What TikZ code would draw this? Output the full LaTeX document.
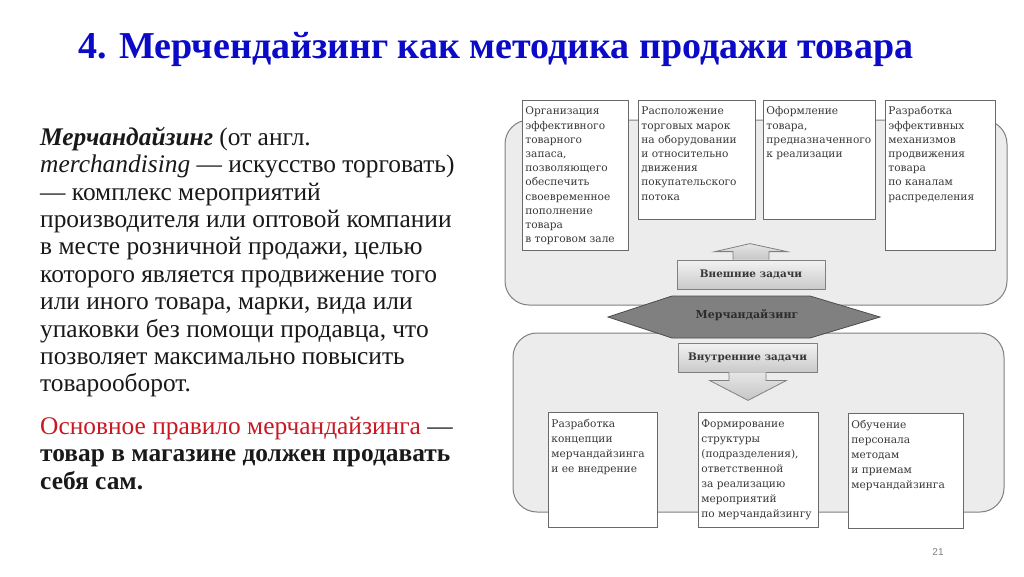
\documentclass[tikz,border=0pt]{standalone}
\usepackage{fontspec}
\setmainfont{Liberation Serif}
\newfontfamily\titlefont[FakeStretch=1.0]{Liberation Serif}
\newfontfamily\boxfont{DejaVu Serif}
\newfontfamily\numfont{Liberation Sans}
\usepackage{xcolor}
\usepackage{tikz}
\usetikzlibrary{positioning}
\definecolor{titleblue}{RGB}{10,10,200}
\definecolor{rulered}{RGB}{200,25,35}
\definecolor{bodytext}{RGB}{25,25,25}
\definecolor{framegray}{RGB}{128,128,128}
\definecolor{groupfill}{RGB}{236,236,236}
\definecolor{boxgray}{RGB}{105,105,105}
\definecolor{hexgray}{RGB}{128,128,128}
\definecolor{labelgray}{RGB}{55,55,55}

\newcommand{\cell}[3]{\parbox[t][#2][t]{#1}{\raggedright\strut #3}}

\begin{document}
\begin{tikzpicture}[x=1pt, y=-1pt,
    taskbox/.style={draw=boxgray, fill=white, line width=0.8pt, anchor=north west, inner xsep=3pt, inner ysep=4.5pt, font=\boxfont\fontsize{10.6}{14.2}\selectfont, text=black!78},
    lowbox/.style={taskbox, font=\boxfont\fontsize{10.6}{15}\selectfont},
    groupbox/.style={draw=framegray, fill=groupfill, line width=1pt, rounded corners=24pt},
    taskbar/.style={draw=framegray, line width=0.8pt, top color=gray!10, bottom color=gray!42, font=\boxfont\bfseries\fontsize{10.4}{13}\selectfont, text=labelgray, inner sep=0pt},
    headshape/.style={draw=framegray, line width=0.8pt, top color=gray!20, bottom color=gray!45},
    hexshape/.style={draw=gray!60!black, line width=0.8pt, fill=hexgray},
    hexlabel/.style={font=\boxfont\bfseries\fontsize{11}{13}\selectfont, text=labelgray!80!black}
]
\fill[white] (0,0) rectangle (1024,576);
\useasboundingbox (0,0) rectangle (1024,576);

\node[anchor=base west, inner sep=0pt, font=\titlefont\bfseries\fontsize{38}{42}\selectfont, text=titleblue] (title) at (78,58) {4. Мерчендайзинг как методика продажи товара};

\node[anchor=north west, inner sep=0pt, align=left, font=\fontsize{25.4}{27.4}\selectfont, text=bodytext] (definition) at (40,126) {\strut\textbf{\textit{Мерчандайзинг}} (от англ.\\
\textit{merchandising} — искусство торговать)\\
— комплекс мероприятий\\
производителя или оптовой компании\\
в месте розничной продажи, целью\\
которого является продвижение того\\
или иного товара, марки, вида или\\
упаковки без помощи продавца, что\\
позволяет максимально повысить\\
товарооборот.\\[15pt]
\textcolor{rulered}{Основное правило мерчандайзинга} —\\
\textbf{товар в магазине должен продавать}\\
\textbf{себя сам.}};

\node[groupbox, minimum width=502, minimum height=185] (outer) at (756,212.5) {};
\node[groupbox, minimum width=491, minimum height=179] (inner) at (758.5,422.5) {};

\node[taskbox] (stock) at (522,100) {\cell{100pt}{141pt}{Организация\\ эффективного\\ товарного\\ запаса,\\ позволяющего\\ обеспечить\\ своевременное\\ пополнение\\ товара\\ в торговом зале}};
\node[taskbox] (brands) at (638,100) {\cell{111pt}{110pt}{Расположение\\ торговых марок\\ на оборудовании\\ и относительно\\ движения\\ покупательского\\ потока}};
\node[taskbox] (design) at (763,100) {\cell{106pt}{110pt}{Оформление\\ товара,\\ предназначенного\\ к реализации}};
\node[taskbox] (channels) at (885,100) {\cell{104pt}{141pt}{Разработка\\ эффективных\\ механизмов\\ продвижения\\ товара\\ по каналам\\ распределения}};

\node[lowbox] (concept) at (548,412) {\cell{103pt}{106pt}{Разработка\\ концепции\\ мерчандайзинга\\ и ее внедрение}};
\node[lowbox] (structure) at (698,412) {\cell{114pt}{106pt}{Формирование\\ структуры\\ (подразделения),\\ ответственной\\ за реализацию\\ мероприятий\\ по~мерчандайзингу}};
\node[lowbox] (training) at (848,413) {\cell{109pt}{106pt}{Обучение\\ персонала\\ методам\\ и приемам\\ мерчандайзинга}};

\node[taskbar, minimum width=148, minimum height=29] (external) at (751,274.5) {Внешние задачи};
\draw[headshape, shift={(external.north)}] (-18,0) -- (-18,-8) -- (-36,-8) -- (-1,-16) -- (36,-8) -- (18,-8) -- (18,0);

\node[taskbar, minimum width=139, minimum height=29] (internal) at (747.5,357.5) {Внутренние задачи};
\draw[headshape, shift={(internal.south)}] (-18.5,0) -- (-18.5,8) -- (-38,8) -- (0.5,28) -- (39,8) -- (18.5,8) -- (18.5,0);

\coordinate (merch) at (744,317);
\draw[hexshape, shift={(merch)}] (-136,0) -- (-72,-21) -- (66,-21) -- (136,0) -- (66,21) -- (-72,21) -- cycle;
\node[hexlabel] (merchlabel) at (747,315) {Мерчандайзинг};

\node[font=\numfont\fontsize{10}{12}\selectfont, text=gray] (pagenum) at (938,552) {21};
\end{tikzpicture}
\end{document}
